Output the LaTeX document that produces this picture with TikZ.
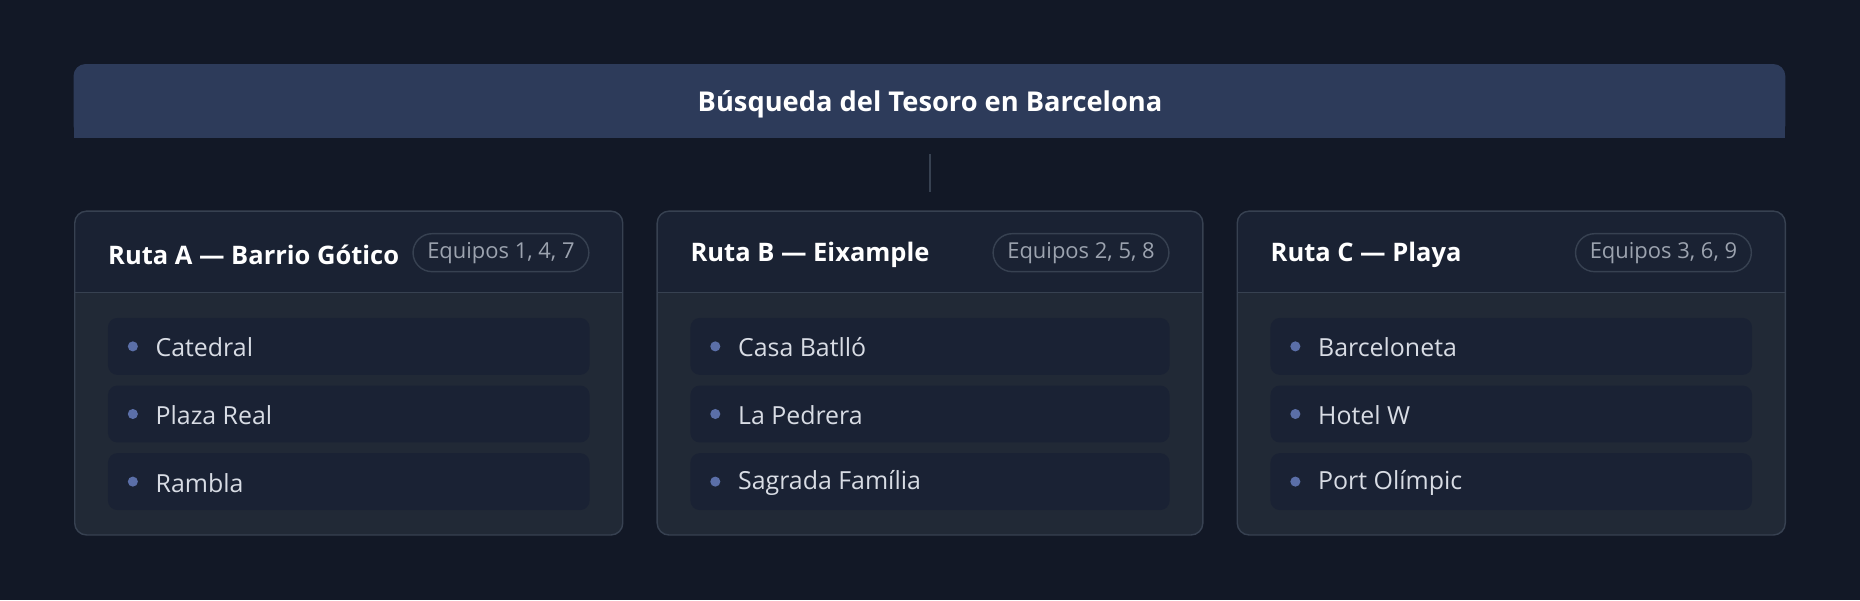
\documentclass[tikz,border=0pt]{standalone}
\usepackage{fontspec}
\setmainfont{Open Sans}
\definecolor{bg}{HTML}{121826}
\definecolor{hdr}{HTML}{2D3B5A}
\definecolor{cardtop}{HTML}{1A2233}
\definecolor{cardbody}{HTML}{212936}
\definecolor{brd}{HTML}{374151}
\definecolor{item}{HTML}{1A2234}
\definecolor{pilltxt}{HTML}{9CA3AF}
\definecolor{itemtxt}{HTML}{D8DCE4}
\definecolor{bul}{HTML}{5B6FA8}
\tikzset{
  titletxt/.style={font=\fontsize{23}{27}\selectfont\bfseries, text=white},
  cardtitle/.style={font=\fontsize{21.5}{25}\selectfont\bfseries, text=white, anchor=west, inner sep=0},
  pill/.style={draw=brd, line width=1.2pt, rounded corners=16pt, fill=cardtop, text=pilltxt, font=\fontsize{18.5}{21}\selectfont, minimum height=32pt, inner xsep=12pt, anchor=east},
  itemtext/.style={font=\fontsize{21}{25}\selectfont, text=itemtxt, anchor=west, inner sep=0},
  itembox/.style={fill=item, rounded corners=8pt},
  bullet/.style={circle, fill=bul, inner sep=0, minimum size=8.5pt},
}
\begin{document}
\begin{tikzpicture}[x=1pt,y=-1pt]
\useasboundingbox (0,0) rectangle (1568,506);
\fill[bg] (0,0) rectangle (1568,506);
% header
\fill[hdr, rounded corners=10pt] (62,54) rectangle (1505,116);
\fill[hdr] (62,80) rectangle (1505,116);
\node[titletxt] (title) at (784,88) {Búsqueda del Tesoro en Barcelona};
\coordinate (c1) at (784,130);
\coordinate (c2) at (784,162);
\draw[brd, line width=2pt] (c1) -- (c2);
% cards
\foreach \L/\R/\T/\P/\a/\b/\c/\nm in {63/525/{Ruta A — Barrio Gótico}/{Equipos 1, 4, 7}/Catedral/{Plaza Real}/Rambla/A,
  554/1014/{Ruta B — Eixample}/{Equipos 2, 5, 8}/{Casa Batlló}/{La Pedrera}/{Sagrada Família}/B,
  1043/1505/{Ruta C — Playa}/{Equipos 3, 6, 9}/Barceloneta/{Hotel W}/{Port Olímpic}/C}{
  \begin{scope}
    \clip[rounded corners=10pt] (\L,178) rectangle (\R,451);
    \fill[cardtop] (\L,178) rectangle (\R,246);
    \fill[cardbody] (\L,246) rectangle (\R,451);
  \end{scope}
  \draw[brd, line width=1.2pt, rounded corners=10pt] (\L,178) rectangle (\R,451);
  \draw[brd, line width=1.2pt] (\L,246.5) -- (\R,246.5);
  \node[cardtitle] (t\nm) at (\L+28,215) {\T};
  \node[pill] (p\nm) at (\R-28,213) {\P};
  \foreach \y/\txt/\k in {292/\a/1, 349/\b/2, 406/\c/3}{
    \fill[itembox] (\L+28,\y-24) rectangle (\R-28,\y+24);
    \node[bullet] (b\nm\k) at (\L+49,\y) {};
    \node[itemtext] (i\nm\k) at (\L+68,\y+1) {\txt};
  }
}
\end{tikzpicture}
\end{document}
